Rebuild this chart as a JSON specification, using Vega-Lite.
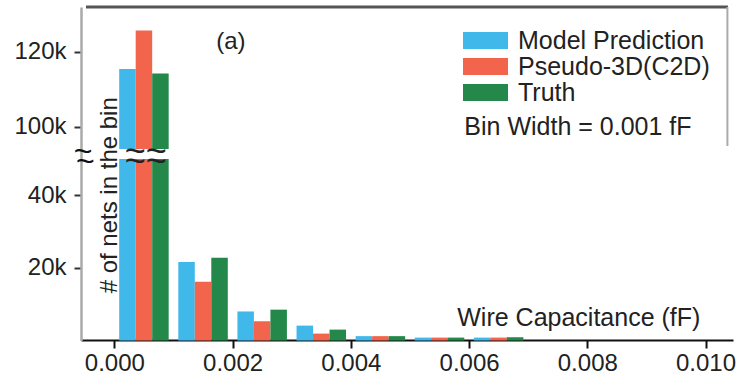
{
  "$schema": "https://vega.github.io/schema/vega-lite/v6.json",
  "autosize": {"type": "none"},
  "width": 652,
  "height": 333,
  "padding": {"left": 81, "top": 7, "right": 6, "bottom": 36},
  "background": "white",
  "config": {"view": {"stroke": null}, "font": "Liberation Sans"},
  "layer": [
    {
      "data": {"values": [
        {"cap": 0.0005, "series": "Model Prediction", "count": 115400},
        {"cap": 0.0005, "series": "Pseudo-3D(C2D)", "count": 125700},
        {"cap": 0.0005, "series": "Truth", "count": 114200},
        {"cap": 0.0015, "series": "Model Prediction", "count": 21600},
        {"cap": 0.0015, "series": "Pseudo-3D(C2D)", "count": 16200},
        {"cap": 0.0015, "series": "Truth", "count": 22800},
        {"cap": 0.0025, "series": "Model Prediction", "count": 8000},
        {"cap": 0.0025, "series": "Pseudo-3D(C2D)", "count": 5300},
        {"cap": 0.0025, "series": "Truth", "count": 8500},
        {"cap": 0.0035, "series": "Model Prediction", "count": 4100},
        {"cap": 0.0035, "series": "Pseudo-3D(C2D)", "count": 1900},
        {"cap": 0.0035, "series": "Truth", "count": 3000},
        {"cap": 0.0045, "series": "Model Prediction", "count": 1200},
        {"cap": 0.0045, "series": "Pseudo-3D(C2D)", "count": 1200},
        {"cap": 0.0045, "series": "Truth", "count": 1200},
        {"cap": 0.0055, "series": "Model Prediction", "count": 800},
        {"cap": 0.0055, "series": "Pseudo-3D(C2D)", "count": 800},
        {"cap": 0.0055, "series": "Truth", "count": 800},
        {"cap": 0.0065, "series": "Model Prediction", "count": 800},
        {"cap": 0.0065, "series": "Pseudo-3D(C2D)", "count": 800},
        {"cap": 0.0065, "series": "Truth", "count": 900}
      ]},
      "encoding": {
        "x": {"field": "cap", "type": "quantitative",
          "scale": {"domain": [-0.00048, 0.01038], "nice": false, "zero": false},
          "axis": {"values": [0, 0.002, 0.004, 0.006, 0.008, 0.01], "format": ".3f", "title": null,
            "grid": false, "domainColor": "#111", "domainWidth": 2, "tickColor": "#111", "tickWidth": 2, "tickSize": 8,
            "labelFontSize": 24, "labelColor": "#222", "labelPadding": 3, "labelFont": "Liberation Sans"}},
        "y": {"field": "count", "type": "quantitative",
          "scale": {"domain": [0, 50000, 94000, 132000], "range": [333.5, 152, 142, 0], "nice": false, "zero": false},
          "axis": {"values": [20000, 40000, 100000, 120000], "labelExpr": "datum.value/1000 + 'k'", "title": null,
            "grid": false, "domainColor": "#aaa", "domainWidth": 2.5, "tickColor": "#333", "tickWidth": 2, "tickSize": 7,
            "labelFontSize": 24, "labelColor": "#222", "labelPadding": 8, "labelFont": "Liberation Sans"}},
        "color": {"field": "series", "type": "nominal",
          "scale": {"domain": ["Model Prediction", "Pseudo-3D(C2D)", "Truth"], "range": ["#41B8EA", "#F2644C", "#23884A"]},
          "legend": {"title": null, "orient": "none", "legendX": 392, "legendY": 21,
            "symbolType": "M-2,-0.756H2V0.756H-2Z", "symbolSize": 506, "symbolStrokeWidth": 0, "symbolOpacity": 1,
            "labelFontSize": 25, "labelColor": "#222", "labelOffset": 20, "labelLimit": 400, "rowPadding": 0, "labelFont": "Liberation Sans"}}
      },
      "layer": [
        {"transform": [{"filter": "datum.series == 'Model Prediction'"}], "mark": {"type": "bar", "width": 16.5, "xOffset": -16.5}},
        {"transform": [{"filter": "datum.series == 'Pseudo-3D(C2D)'"}], "mark": {"type": "bar", "width": 16.5, "xOffset": 0}},
        {"transform": [{"filter": "datum.series == 'Truth'"}], "mark": {"type": "bar", "width": 16.5, "xOffset": 16.5}}
      ]
    },
    {
      "data": {"values": [{"k": 1}]},
      "layer": [
        {"mark": {"type": "rect", "color": "white"},
          "encoding": {"x": {"datum": 0.00005}, "x2": {"datum": 0.0011}, "y": {"datum": 50000}, "y2": {"datum": 94000}}},
        {"mark": {"type": "text", "text": "~~", "fontSize": 36, "color": "#222", "align": "center", "baseline": "middle"},
          "encoding": {"x": {"datum": 0.00053}, "y": {"datum": 80800}}},
        {"mark": {"type": "text", "text": "~~", "fontSize": 36, "color": "#222", "align": "center", "baseline": "middle"},
          "encoding": {"x": {"datum": 0.00053}, "y": {"datum": 49200}}},
        {"mark": {"type": "text", "text": "~", "fontSize": 32, "color": "#111", "align": "center", "baseline": "middle"},
          "encoding": {"x": {"datum": -0.00053}, "y": {"datum": 80800}}},
        {"mark": {"type": "text", "text": "~", "fontSize": 32, "color": "#111", "align": "center", "baseline": "middle"},
          "encoding": {"x": {"datum": -0.00049}, "y": {"datum": 49200}}},
        {"mark": {"type": "rule", "strokeWidth": 3, "color": "#555"},
          "encoding": {"x": {"datum": -0.00048}, "x2": {"datum": 0.01038}, "y": {"datum": 132000}}},
        {"mark": {"type": "rule", "strokeWidth": 2, "color": "#aaa"},
          "encoding": {"x": {"datum": 0.01037}, "y": {"datum": 94800}, "y2": {"datum": 132000}}},
        {"mark": {"type": "text", "text": "(a)", "fontSize": 24, "color": "#222", "align": "center", "baseline": "middle"},
          "encoding": {"x": {"datum": 0.00197}, "y": {"datum": 122600}}},
        {"mark": {"type": "text", "text": "Bin Width = 0.001 fF", "fontSize": 25, "color": "#222", "align": "left", "baseline": "middle"},
          "encoding": {"x": {"datum": 0.00592}, "y": {"datum": 100000}}},
        {"mark": {"type": "text", "text": "Wire Capacitance (fF)", "fontSize": 25, "color": "#222", "align": "left", "baseline": "middle"},
          "encoding": {"x": {"datum": 0.0058}, "y": {"datum": 6200}}},
        {"mark": {"type": "text", "text": "# of nets in the bin", "fontSize": 24, "color": "#222", "angle": 270, "align": "center", "baseline": "middle"},
          "encoding": {"x": {"datum": -0.00008}, "y": {"datum": 40000}}}
      ]
    }
  ]
}
